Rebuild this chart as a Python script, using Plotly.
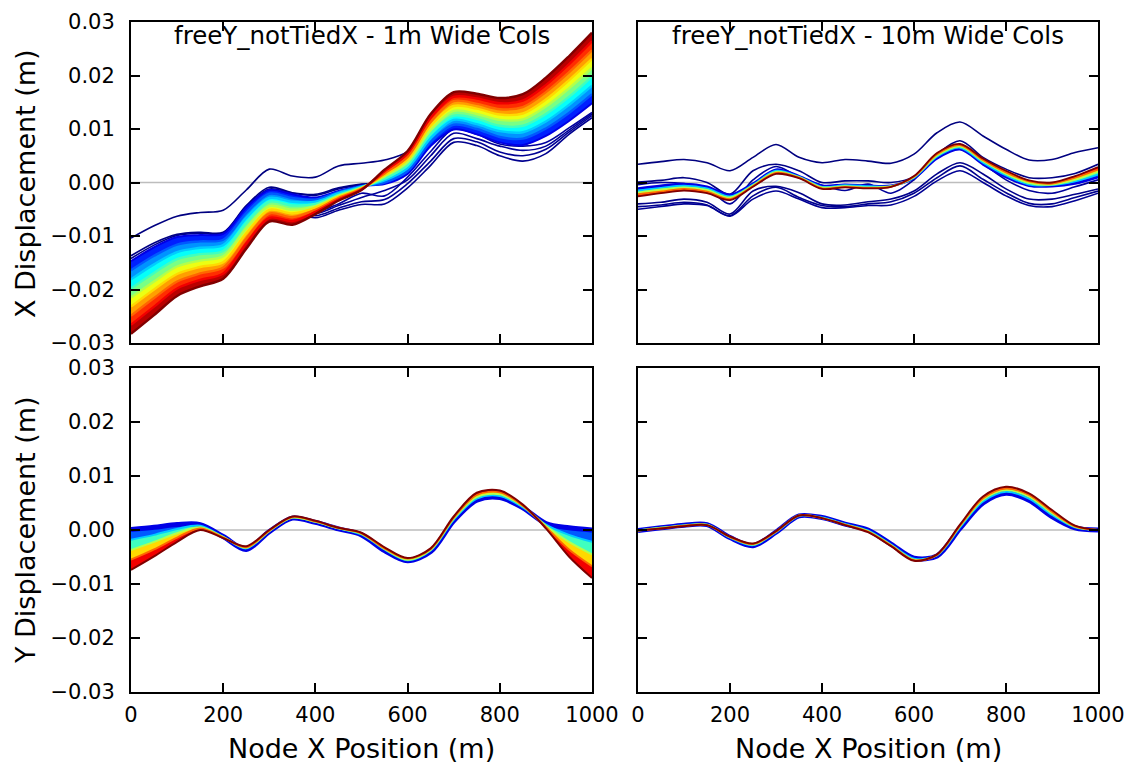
import plotly.graph_objects as go

# ---------------- data ----------------
NODE_X = [0, 50, 100, 150, 200, 250, 300, 350, 400, 450, 500,
          550, 600, 650, 700, 750, 800, 850, 900, 950, 1000]

X_TICKS = [0, 200, 400, 600, 800, 1000]
X_TICK_TEXT = ["0", "200", "400", "600", "800", "1000"]
Y_TICKS = [-0.03, -0.02, -0.01, 0.0, 0.01, 0.02, 0.03]
Y_TICK_TEXT = ["\u22120.03", "\u22120.02", "\u22120.01", "0.00", "0.01", "0.02", "0.03"]

PANEL_TITLES = ["freeY_notTiedX - 1m Wide Cols", "freeY_notTiedX - 10m Wide Cols"]
X_LABEL = "Node X Position (m)"
Y_LABELS = ["X Displacement (m)", "Y Displacement (m)"]

# Top-left: X displacement, 1m wide columns. Fan of curves, first (blue) -> last (red)
TL_FAN = [
    [-0.0147, -0.0121, -0.0102, -0.0098, -0.0096, -0.0047, -0.0014, -0.0022, -0.0028, -0.0016, -0.0006, -0.0003, 0.0016, 0.0068, 0.0099, 0.0090, 0.0075, 0.0070, 0.0087, 0.0115, 0.0148],
    [-0.0164, -0.0137, -0.0116, -0.0110, -0.0107, -0.0057, -0.0021, -0.0029, -0.0032, -0.0018, -0.0007, 0.0000, 0.0021, 0.0076, 0.0108, 0.0100, 0.0085, 0.0082, 0.0101, 0.0130, 0.0165],
    [-0.0181, -0.0153, -0.0130, -0.0122, -0.0117, -0.0066, -0.0029, -0.0036, -0.0036, -0.0020, -0.0008, 0.0004, 0.0027, 0.0083, 0.0117, 0.0109, 0.0096, 0.0094, 0.0114, 0.0145, 0.0181],
    [-0.0198, -0.0169, -0.0143, -0.0134, -0.0128, -0.0076, -0.0036, -0.0043, -0.0040, -0.0023, -0.0009, 0.0007, 0.0032, 0.0091, 0.0125, 0.0119, 0.0106, 0.0106, 0.0128, 0.0160, 0.0198],
    [-0.0215, -0.0185, -0.0157, -0.0146, -0.0138, -0.0086, -0.0044, -0.0051, -0.0044, -0.0025, -0.0010, 0.0011, 0.0038, 0.0098, 0.0134, 0.0128, 0.0117, 0.0118, 0.0142, 0.0176, 0.0214],
    [-0.0232, -0.0200, -0.0171, -0.0158, -0.0149, -0.0095, -0.0051, -0.0058, -0.0047, -0.0027, -0.0011, 0.0014, 0.0043, 0.0106, 0.0143, 0.0138, 0.0127, 0.0129, 0.0155, 0.0191, 0.0231],
    [-0.0249, -0.0216, -0.0185, -0.0170, -0.0159, -0.0105, -0.0058, -0.0065, -0.0051, -0.0029, -0.0012, 0.0017, 0.0048, 0.0113, 0.0152, 0.0147, 0.0137, 0.0141, 0.0169, 0.0206, 0.0247],
    [-0.0266, -0.0232, -0.0198, -0.0182, -0.0170, -0.0114, -0.0066, -0.0072, -0.0055, -0.0032, -0.0013, 0.0021, 0.0054, 0.0121, 0.0160, 0.0157, 0.0148, 0.0153, 0.0182, 0.0221, 0.0264],
    [-0.0283, -0.0248, -0.0212, -0.0194, -0.0180, -0.0124, -0.0073, -0.0079, -0.0059, -0.0034, -0.0014, 0.0024, 0.0059, 0.0128, 0.0169, 0.0166, 0.0158, 0.0165, 0.0196, 0.0236, 0.0280],
]
TL_EARLY = [
    [-0.0104, -0.0081, -0.0063, -0.0056, -0.0052, -0.0014, 0.0025, 0.0012, 0.0010, 0.0031, 0.0036, 0.0042, 0.0058, 0.0118, 0.0150, 0.0140, 0.0125, 0.0128, 0.0150, 0.0185, 0.0220],
    [-0.0137, -0.0113, -0.0097, -0.0093, -0.0093, -0.0043, -0.0009, -0.0019, -0.0022, -0.0010, -0.0003, 0.0000, 0.0030, 0.0080, 0.0110, 0.0100, 0.0085, 0.0080, 0.0095, 0.0125, 0.0155],
    [-0.0142, -0.0117, -0.0099, -0.0095, -0.0095, -0.0045, -0.0012, -0.0020, -0.0024, -0.0012, -0.0004, 0.0002, 0.0028, 0.0078, 0.0112, 0.0102, 0.0088, 0.0083, 0.0098, 0.0128, 0.0158],
    [-0.0220, -0.0190, -0.0160, -0.0150, -0.0140, -0.0090, -0.0050, -0.0056, -0.0066, -0.0052, -0.0041, -0.0040, -0.0010, 0.0032, 0.0075, 0.0069, 0.0050, 0.0040, 0.0054, 0.0090, 0.0121],
    [-0.0210, -0.0180, -0.0152, -0.0142, -0.0135, -0.0082, -0.0040, -0.0050, -0.0062, -0.0048, -0.0036, -0.0032, -0.0002, 0.0040, 0.0082, 0.0076, 0.0057, 0.0050, 0.0062, 0.0094, 0.0125],
    [-0.0200, -0.0172, -0.0147, -0.0138, -0.0130, -0.0078, -0.0038, -0.0047, -0.0058, -0.0043, -0.0028, -0.0015, 0.0005, 0.0050, 0.0092, 0.0082, 0.0068, 0.0060, 0.0068, 0.0098, 0.0128],
    [-0.0195, -0.0168, -0.0143, -0.0133, -0.0126, -0.0074, -0.0035, -0.0045, -0.0055, -0.0040, -0.0020, -0.0025, 0.0010, 0.0058, 0.0100, 0.0090, 0.0072, 0.0068, 0.0075, 0.0102, 0.0131],
]

# Top-right: X displacement, 10m wide columns
TR_FAN = [
    [-0.0011, -0.0006, -0.0003, -0.0008, -0.0023, -0.0002, 0.0024, 0.0012, -0.0006, -0.0004, -0.0006, -0.0006, 0.0008, 0.0045, 0.0062, 0.0034, 0.0010, -0.0006, -0.0007, -0.0002, 0.0010],
    [-0.0015, -0.0010, -0.0006, -0.0011, -0.0026, -0.0004, 0.0022, 0.0011, -0.0008, -0.0005, -0.0007, -0.0007, 0.0009, 0.0048, 0.0065, 0.0037, 0.0013, -0.0004, -0.0005, 0.0002, 0.0015],
    [-0.0019, -0.0013, -0.0009, -0.0014, -0.0028, -0.0005, 0.0020, 0.0010, -0.0009, -0.0007, -0.0009, -0.0007, 0.0010, 0.0050, 0.0067, 0.0040, 0.0016, -0.0001, -0.0004, 0.0005, 0.0020],
    [-0.0022, -0.0017, -0.0012, -0.0017, -0.0031, -0.0007, 0.0018, 0.0009, -0.0011, -0.0008, -0.0010, -0.0008, 0.0011, 0.0053, 0.0070, 0.0042, 0.0019, 0.0002, -0.0002, 0.0009, 0.0024],
    [-0.0026, -0.0020, -0.0015, -0.0020, -0.0033, -0.0008, 0.0016, 0.0008, -0.0012, -0.0009, -0.0011, -0.0008, 0.0012, 0.0055, 0.0072, 0.0045, 0.0022, 0.0004, 0.0000, 0.0012, 0.0029],
]
TR_EARLY = [
    [0.0034, 0.0039, 0.0043, 0.0037, 0.0022, 0.0047, 0.0071, 0.0047, 0.0037, 0.0043, 0.0040, 0.0036, 0.0053, 0.0093, 0.0113, 0.0087, 0.0062, 0.0042, 0.0043, 0.0056, 0.0065],
    [0.0001, 0.0004, 0.0009, 0.0000, -0.0022, 0.0022, 0.0034, 0.0022, 0.0000, 0.0003, 0.0003, 0.0000, 0.0011, 0.0053, 0.0078, 0.0047, 0.0025, 0.0009, 0.0009, 0.0017, 0.0034],
    [-0.0040, -0.0037, -0.0031, -0.0037, -0.0059, -0.0016, -0.0007, -0.0019, -0.0040, -0.0042, -0.0036, -0.0031, -0.0016, 0.0016, 0.0037, 0.0016, -0.0012, -0.0031, -0.0031, -0.0022, -0.0012],
    [-0.0045, -0.0042, -0.0037, -0.0042, -0.0062, -0.0025, -0.0009, -0.0028, -0.0043, -0.0045, -0.0040, -0.0036, -0.0020, 0.0009, 0.0031, 0.0006, -0.0019, -0.0039, -0.0040, -0.0028, -0.0016],
    [-0.0050, -0.0045, -0.0040, -0.0043, -0.0063, -0.0031, -0.0016, -0.0031, -0.0047, -0.0047, -0.0043, -0.0042, -0.0026, 0.0003, 0.0022, 0.0000, -0.0025, -0.0043, -0.0045, -0.0034, -0.0020],
    [-0.0004, 0.0000, -0.0002, -0.0010, -0.0040, 0.0005, 0.0030, 0.0010, -0.0005, -0.0015, -0.0003, -0.0020, 0.0005, 0.0050, 0.0065, 0.0035, 0.0005, -0.0015, -0.0020, -0.0008, 0.0005],
]

# Bottom-left: Y displacement, 1m wide columns
BL_FAN = [
    [0.0001, 0.0005, 0.0010, 0.0010, -0.0012, -0.0036, -0.0003, 0.0022, 0.0014, 0.0002, -0.0009, -0.0038, -0.0057, -0.0040, 0.0017, 0.0055, 0.0060, 0.0041, 0.0012, 0.0004, 0.0000],
    [-0.0018, -0.0009, 0.0002, 0.0008, -0.0013, -0.0034, -0.0002, 0.0023, 0.0015, 0.0003, -0.0008, -0.0036, -0.0056, -0.0038, 0.0019, 0.0058, 0.0063, 0.0042, 0.0010, -0.0009, -0.0022],
    [-0.0037, -0.0022, -0.0006, 0.0005, -0.0013, -0.0033, -0.0002, 0.0023, 0.0015, 0.0003, -0.0007, -0.0035, -0.0055, -0.0037, 0.0021, 0.0061, 0.0066, 0.0044, 0.0008, -0.0022, -0.0045],
    [-0.0055, -0.0036, -0.0014, 0.0003, -0.0014, -0.0032, -0.0001, 0.0024, 0.0016, 0.0004, -0.0006, -0.0034, -0.0053, -0.0035, 0.0023, 0.0065, 0.0070, 0.0045, 0.0005, -0.0036, -0.0067],
    [-0.0074, -0.0049, -0.0022, 0.0000, -0.0015, -0.0030, 0.0000, 0.0025, 0.0017, 0.0004, -0.0005, -0.0032, -0.0052, -0.0034, 0.0025, 0.0069, 0.0073, 0.0047, 0.0003, -0.0049, -0.0089],
]

# Bottom-right: Y displacement, 10m wide columns
BR_FAN = [
    [-0.0001, 0.0004, 0.0009, 0.0010, -0.0014, -0.0029, -0.0004, 0.0026, 0.0023, 0.0011, 0.0000, -0.0026, -0.0052, -0.0048, 0.0003, 0.0050, 0.0068, 0.0055, 0.0025, 0.0004, 0.0000],
    [-0.0001, 0.0004, 0.0009, 0.0010, -0.0014, -0.0028, -0.0004, 0.0026, 0.0023, 0.0011, -0.0001, -0.0027, -0.0053, -0.0047, 0.0005, 0.0053, 0.0071, 0.0058, 0.0028, 0.0005, 0.0000],
    [-0.0001, 0.0004, 0.0008, 0.0010, -0.0013, -0.0027, -0.0003, 0.0027, 0.0022, 0.0010, -0.0002, -0.0028, -0.0055, -0.0046, 0.0007, 0.0056, 0.0074, 0.0062, 0.0031, 0.0006, 0.0000],
    [-0.0001, 0.0003, 0.0008, 0.0009, -0.0013, -0.0026, -0.0003, 0.0027, 0.0022, 0.0010, -0.0003, -0.0029, -0.0056, -0.0046, 0.0008, 0.0059, 0.0077, 0.0065, 0.0034, 0.0007, 0.0000],
    [-0.0001, 0.0003, 0.0007, 0.0009, -0.0012, -0.0025, -0.0002, 0.0027, 0.0022, 0.0009, -0.0004, -0.0030, -0.0057, -0.0045, 0.0010, 0.0062, 0.0080, 0.0068, 0.0037, 0.0008, 0.0000],
]

# ---------------- styling helpers ----------------
W, H = 1130, 764
FONT = "DejaVu Sans"


def jet(v):
    def c(a):
        return max(0.0, min(1.0, a))
    r = c(min(4 * v - 1.5, -4 * v + 4.5))
    g = c(min(4 * v - 0.5, -4 * v + 3.5))
    b = c(min(4 * v + 0.5, -4 * v + 2.5))
    return "rgb(%d,%d,%d)" % (round(r * 255), round(g * 255), round(b * 255))


def px_x(p):
    return p / W


def px_y(p):
    return 1 - p / H


fig = go.Figure()


def add_panel(xa, ya, early, fan, line_w, halo_w):
    for i, ys in enumerate(early):
        fig.add_trace(go.Scatter(
            x=NODE_X, y=ys, xaxis=xa, yaxis=ya, mode="lines",
            line=dict(color=jet(0.005 * i), width=1.6, shape="spline", smoothing=0.9),
            hoverinfo="skip", showlegend=False))
    K = len(fan) - 1
    levels = [0.1 + 0.9 * k / K for k in range(K + 1)]
    for k, ys in enumerate(fan):
        tr = dict(x=NODE_X, y=ys, xaxis=xa, yaxis=ya, mode="lines",
                  line=dict(width=0, shape="spline", smoothing=0.9),
                  hoverinfo="skip", showlegend=False)
        if k > 0:
            tr.update(fill="tonexty", fillcolor=jet((levels[k - 1] + levels[k]) / 2))
        fig.add_trace(go.Scatter(**tr))
    for k, ys in enumerate(fan):
        w = halo_w if k == 0 else line_w
        fig.add_trace(go.Scatter(
            x=NODE_X, y=ys, xaxis=xa, yaxis=ya, mode="lines",
            line=dict(color=jet(levels[k]), width=w, shape="spline", smoothing=0.9),
            hoverinfo="skip", showlegend=False))


add_panel("x", "y", TL_EARLY, TL_FAN, 2.4, 2.0)
add_panel("x2", "y2", TR_EARLY, TR_FAN, 1.8, 2.5)
add_panel("x3", "y3", [], BL_FAN, 2.0, 5.0)
add_panel("x4", "y4", [], BR_FAN, 2.0, 5.0)

XD_L = [px_x(131), px_x(592)]
XD_R = [px_x(638), px_x(1098)]
YD_T = [px_y(343), px_y(22)]
YD_B = [px_y(692), px_y(368)]

common = dict(ticks="inside", ticklen=9, tickwidth=1.5, tickcolor="black",
              showline=True, linecolor="black", linewidth=2, mirror="ticks",
              showgrid=False, zeroline=False, automargin=False,
              ticklabelposition="outside",
              tickfont=dict(family=FONT, size=21, color="black"))


def xax(domain, anchor, labels):
    d = dict(common)
    d.update(domain=domain, anchor=anchor, range=[0, 1000], tickvals=X_TICKS,
             ticktext=X_TICK_TEXT, showticklabels=labels, ticklabelstandoff=3)
    return d


def yax(domain, anchor, labels):
    d = dict(common)
    d.update(domain=domain, anchor=anchor, range=[-0.03, 0.03], tickvals=Y_TICKS,
             ticktext=Y_TICK_TEXT, showticklabels=labels, ticklabelstandoff=10)
    return d


shapes = []
for xr, yr in [("x", "y"), ("x2", "y2"), ("x3", "y3"), ("x4", "y4")]:
    shapes.append(dict(type="line", xref=xr + " domain", yref=yr,
                       x0=0, x1=1, y0=0, y1=0, layer="below",
                       line=dict(color="#bdbdbd", width=1.3)))

annotations = [
    dict(text=PANEL_TITLES[0], x=px_x(361.5), y=px_y(36), xref="paper", yref="paper",
         xanchor="center", yanchor="middle", showarrow=False,
         font=dict(family=FONT, size=24.5, color="black")),
    dict(text=PANEL_TITLES[1], x=px_x(868), y=px_y(36), xref="paper", yref="paper",
         xanchor="center", yanchor="middle", showarrow=False,
         font=dict(family=FONT, size=24.5, color="black")),
    dict(text=Y_LABELS[0], x=px_x(25), y=px_y(184), xref="paper", yref="paper",
         xanchor="center", yanchor="middle", textangle=-90, showarrow=False,
         font=dict(family=FONT, size=27, color="black")),
    dict(text=Y_LABELS[1], x=px_x(25), y=px_y(530), xref="paper", yref="paper",
         xanchor="center", yanchor="middle", textangle=-90, showarrow=False,
         font=dict(family=FONT, size=27, color="black")),
    dict(text=X_LABEL, x=px_x(361.5), y=px_y(748), xref="paper", yref="paper",
         xanchor="center", yanchor="middle", showarrow=False,
         font=dict(family=FONT, size=27, color="black")),
    dict(text=X_LABEL, x=px_x(868), y=px_y(748), xref="paper", yref="paper",
         xanchor="center", yanchor="middle", showarrow=False,
         font=dict(family=FONT, size=27, color="black")),
]

fig.update_layout(
    width=W, height=H, margin=dict(l=0, r=0, t=0, b=0, autoexpand=False),
    paper_bgcolor="white", plot_bgcolor="white", showlegend=False,
    font=dict(family=FONT, color="black"),
    xaxis=xax(XD_L, "y", False), yaxis=yax(YD_T, "x", True),
    xaxis2=xax(XD_R, "y2", False), yaxis2=yax(YD_T, "x2", False),
    xaxis3=xax(XD_L, "y3", True), yaxis3=yax(YD_B, "x3", True),
    xaxis4=xax(XD_R, "y4", True), yaxis4=yax(YD_B, "x4", False),
    shapes=shapes, annotations=annotations,
)

fig.write_html("out.html")
